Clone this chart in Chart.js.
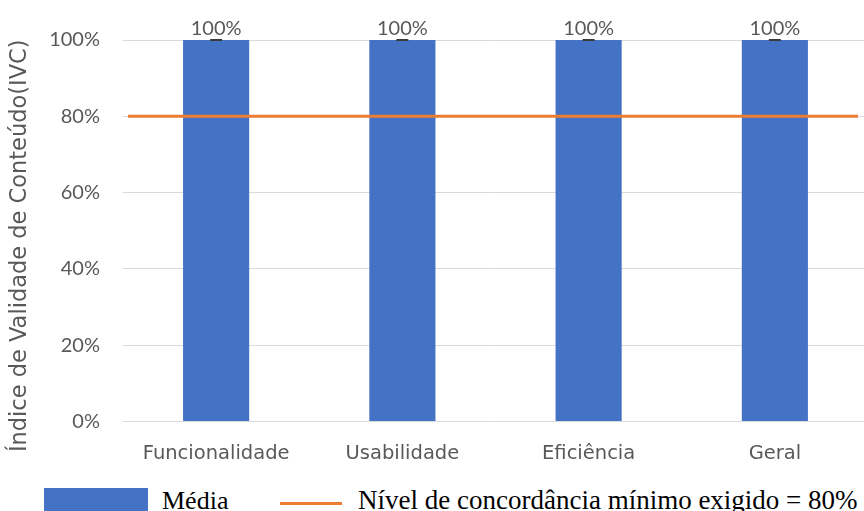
<!DOCTYPE html>
<html>
<head>
<meta charset="utf-8">
<script src="https://cdn.jsdelivr.net/npm/chart.js@4/dist/chart.umd.min.js"></script>
<style>
  html, body { margin: 0; padding: 0; background: #fff; }
  #wrap { position: relative; width: 864px; height: 511px; overflow: hidden; }
  #chart-box { position: absolute; left: 0; top: 0; width: 868px; height: 479px; }
  #legend { position: absolute; left: 0; top: 486px; width: 864px; height: 25px;
            font-family: "Liberation Serif", "Times New Roman", serif; font-size: 27px; color: #000; }
  .sw-bar { position: absolute; left: 44px; top: 2px; width: 104px; height: 30px; background: #4472C4; }
  .lbl1 { position: absolute; left: 162px; top: 0px; white-space: nowrap; font-size: 26px; }
  .sw-line { position: absolute; left: 280px; top: 16px; width: 62px; height: 3px; background: #ED7D31; }
  .lbl2 { position: absolute; left: 358px; top: -1px; white-space: nowrap; }
</style>
</head>
<body>
<div id="wrap">
  <div id="chart-box"><canvas id="ivc-chart"></canvas></div>
  <div id="legend">
    <div class="sw-bar"></div><span class="lbl1">Média</span>
    <div class="sw-line"></div><span class="lbl2">Nível de concordância mínimo exigido = 80%</span>
  </div>
</div>
<script>
const categories = ['Funcionalidade', 'Usabilidade', 'Eficiência', 'Geral'];
const mediaValues = [100, 100, 100, 100];
const minimumLevel = 80;
const yTicks = [0, 20, 40, 60, 80, 100];
const yTitle = 'Índice de Validade de Conteúdo(IVC)';

const gray = '#595959';
const lato = 'Lato, "Open Sans", sans-serif';
const dejavu = '"DejaVu Sans", sans-serif';

// "100%" above each bar plus the small cap mark on top
const barLabels = {
    id: 'barLabels',
    afterDatasetsDraw(chart) {
        const ctx = chart.ctx;
        const meta = chart.getDatasetMeta(0);
        ctx.save();
        ctx.font = '20px ' + lato;
        ctx.textAlign = 'center';
        ctx.textBaseline = 'bottom';
        meta.data.forEach((bar, i) => {
            ctx.fillStyle = gray;
            ctx.fillText(mediaValues[i] + '%', bar.x, bar.y - 1);
            ctx.fillStyle = '#3a3a3a';
            ctx.fillRect(bar.x - 6, bar.y - 1, 12, 2);
        });
        ctx.restore();
    }
};

// y axis title, sits a bit lower than the plot centre like the original
const sideTitle = {
    id: 'sideTitle',
    afterDraw(chart) {
        const ctx = chart.ctx;
        const area = chart.chartArea;
        ctx.save();
        ctx.translate(20, (area.top + area.bottom) / 2 + 15);
        ctx.rotate(-Math.PI / 2);
        ctx.font = '22.5px ' + dejavu;
        ctx.fillStyle = gray;
        ctx.textAlign = 'center';
        ctx.textBaseline = 'middle';
        ctx.fillText(yTitle, 0, 0);
        ctx.restore();
    }
};

const ctx = document.getElementById('ivc-chart').getContext('2d');
new Chart(ctx, {
    type: 'bar',
    data: {
        labels: categories,
        datasets: [
            {
                label: 'Média',
                data: mediaValues,
                backgroundColor: '#4472C4',
                grouped: false,
                categoryPercentage: 1,
                barPercentage: 0.355,
                order: 2
            },
            {
                type: 'line',
                label: 'Nível de concordância mínimo exigido = 80%',
                data: [{ x: 0.027, y: minimumLevel }, { x: 3.946, y: minimumLevel }],
                xAxisID: 'x2',
                borderColor: '#ED7D31',
                borderWidth: 3,
                pointRadius: 0,
                order: 1
            }
        ]
    },
    options: {
        responsive: true,
        maintainAspectRatio: false,
        animation: false,
        layout: { padding: { top: 40, right: 0, left: 0, bottom: 0 } },
        plugins: {
            legend: { display: false },
            tooltip: { enabled: false }
        },
        scales: {
            x: {
                grid: { display: false },
                border: { display: false },
                ticks: { color: gray, font: { family: dejavu, size: 19.5 }, padding: 13 }
            },
            x2: {
                type: 'linear',
                display: false,
                offset: false,
                min: 0,
                max: 4
            },
            y: {
                min: 0,
                max: 100,
                afterBuildTicks: (axis) => { axis.ticks = yTicks.map(v => ({ value: v })); },
                afterFit: (axis) => { axis.width = 123; },
                grid: { color: '#d9d9d9', drawTicks: false },
                border: { display: false },
                ticks: { color: gray, font: { family: lato, size: 20 }, padding: 23, callback: v => v + '%' }
            }
        }
    },
    plugins: [barLabels, sideTitle]
});
</script>
</body>
</html>
